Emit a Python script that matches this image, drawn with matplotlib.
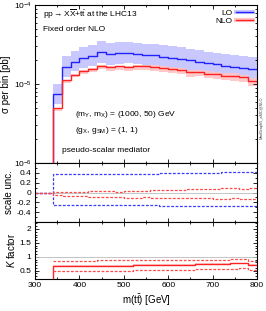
import numpy as np
import matplotlib.pyplot as plt
from matplotlib.lines import Line2D
from matplotlib.ticker import MultipleLocator, FixedLocator

plt.rcParams['font.family'] = ['Liberation Sans', 'DejaVu Sans']
plt.rcParams['mathtext.fontset'] = 'custom'
plt.rcParams['mathtext.rm'] = 'Liberation Sans'
plt.rcParams['mathtext.it'] = 'Liberation Sans:italic'

# bin edges of m(tt~) [GeV], 20 GeV bins, first two bins empty (below threshold)
edges = np.arange(300, 801, 20)

# cross section per bin [pb]
lo = np.array([0, 0, 7.4e-6, 1.65e-5, 1.92e-5, 2.15e-5, 2.29e-5, 2.52e-5, 2.38e-5, 2.45e-5,
               2.50e-5, 2.40e-5, 2.35e-5, 2.33e-5, 2.22e-5, 2.15e-5, 2.10e-5, 2.01e-5,
               1.92e-5, 1.83e-5, 1.78e-5, 1.70e-5, 1.65e-5, 1.60e-5, 1.55e-5])
nlo = np.array([0, 0, 4.9e-6, 1.11e-5, 1.31e-5, 1.46e-5, 1.56e-5, 1.71e-5, 1.62e-5, 1.67e-5,
                1.65e-5, 1.68e-5, 1.67e-5, 1.65e-5, 1.58e-5, 1.55e-5, 1.51e-5, 1.41e-5,
                1.42e-5, 1.35e-5, 1.32e-5, 1.28e-5, 1.25e-5, 1.22e-5, 1.09e-5])

# relative scale uncertainties
lo_up = np.array([0, 0, 0.37, 0.37, 0.37, 0.37, 0.37, 0.37, 0.37, 0.37, 0.38, 0.38, 0.38,
                  0.38, 0.39, 0.39, 0.39, 0.39, 0.40, 0.40, 0.40, 0.41, 0.41, 0.41, 0.41])
lo_dn = np.array([0, 0, -0.25, -0.25, -0.25, -0.25, -0.26, -0.26, -0.26, -0.26, -0.26, -0.26,
                  -0.26, -0.26, -0.27, -0.27, -0.27, -0.27, -0.27, -0.27, -0.27, -0.28,
                  -0.28, -0.28, -0.28])
nlo_up = np.array([0, 0, 0.01, 0.01, 0.02, 0.02, 0.03, 0.03, 0.03, 0.02, 0.03, 0.04, 0.04,
                   0.05, 0.06, 0.06, 0.06, 0.07, 0.07, 0.07, 0.08, 0.09, 0.09, 0.08, 0.10])
nlo_dn = np.array([0, 0, -0.06, -0.07, -0.07, -0.08, -0.09, -0.09, -0.10, -0.10, -0.11,
                   -0.11, -0.10, -0.11, -0.11, -0.12, -0.12, -0.12, -0.11, -0.12, -0.13,
                   -0.13, -0.12, -0.13, -0.14])

# K-factor envelope
k_up = np.array([np.nan, np.nan, 0.86, 0.86, 0.86, 0.86, 0.86, 0.87, 0.87, 0.87, 0.87, 0.88,
                 0.88, 0.88, 0.88, 0.90, 0.90, 0.89, 0.90, 0.90, 0.90, 0.90, 0.91, 0.91, 0.84])
k_dn = np.array([np.nan, np.nan, 0.47, 0.47, 0.48, 0.49, 0.49, 0.50, 0.50, 0.50, 0.50, 0.52,
                 0.53, 0.53, 0.53, 0.54, 0.54, 0.53, 0.55, 0.56, 0.56, 0.57, 0.57, 0.58, 0.52])

blue = '#2222ff'
red = '#ff2222'
dred = '#ff4848'
dblue = '#3838ff'
lblue = '#c8c8ff'
lred = '#ffc4c4'
dash = (0, (2.2, 1.3))


def ext(v):
    return np.append(v, v[-1])


def stepline(ax, v, **kw):
    ax.step(edges, ext(v), where='post', **kw)


def band(ax, lo_v, hi_v, **kw):
    ax.fill_between(edges, ext(lo_v), ext(hi_v), step='post', lw=0, **kw)


fig = plt.figure(figsize=(2.66, 3.11), dpi=100)
L, W = 35 / 266, 222 / 266
ax1 = fig.add_axes([L, 1 - 163 / 311, W, 158 / 311])
ax2 = fig.add_axes([L, 1 - 222 / 311, W, 59 / 311])
ax3 = fig.add_axes([L, 1 - 279 / 311, W, 57 / 311])

# main panel
ax1.set_yscale('log')
band(ax1, lo * (1 + lo_dn), lo * (1 + lo_up), color=lblue)
band(ax1, nlo * (1 + nlo_dn), nlo * (1 + nlo_up), color=lred, alpha=0.9)
stepline(ax1, lo, color=blue, lw=1.0)
stepline(ax1, nlo, color=red, lw=1.0)
ax1.set_ylim(1e-6, 1e-4)
ax1.set_ylabel('σ per bin [pb]', fontsize=7, labelpad=2)

fs = 6
ax1.text(0.036, 0.937, r'pp$\rightarrow$X$\overline{\mathrm{X}}$+t$\bar{\mathrm{t}}$ at the LHC13',
         transform=ax1.transAxes, fontsize=fs, va='center')
ax1.text(0.036, 0.848, 'Fixed order NLO', transform=ax1.transAxes, fontsize=fs, va='center')
ax1.text(0.18, 0.304, r'(m$_\mathrm{Y}$, m$_\mathrm{X}$) = (1000, 50) GeV',
         transform=ax1.transAxes, fontsize=fs, va='center')
ax1.text(0.18, 0.203, r'(g$_\mathrm{X}$, g$_\mathrm{SM}$) = (1, 1)',
         transform=ax1.transAxes, fontsize=fs, va='center')
ax1.text(0.12, 0.076, 'pseudo-scalar mediator', transform=ax1.transAxes, fontsize=fs, va='center')

h_lo = (Line2D([], [], color=lblue, lw=3), Line2D([], [], color=blue, lw=1.0))
h_nlo = (Line2D([], [], color=lred, lw=3), Line2D([], [], color=red, lw=1.0))
ax1.legend([h_lo, h_nlo], ['LO', 'NLO'], loc='upper right', frameon=False, fontsize=fs,
           markerfirst=False, handlelength=2.0, handletextpad=0.5, labelspacing=0.05,
           borderaxespad=0.3, borderpad=0.2)

fig.text(0.985, 0.62, 'MadGraph5_aMC@NLO', rotation=90, fontsize=2.8, color='#444444',
         ha='center', va='center')

# scale uncertainty panel
ax2.axhline(0, color='#bbbbbb', lw=0.6)
stepline(ax2, lo_up, color=dblue, lw=0.9, ls=dash)
stepline(ax2, lo_dn, color=dblue, lw=0.9, ls=dash)
stepline(ax2, nlo_up, color=dred, lw=0.9, ls=dash)
stepline(ax2, nlo_dn, color=dred, lw=0.9, ls=dash)
ax2.set_ylim(-0.6, 0.6)
ax2.yaxis.set_major_locator(FixedLocator([-0.4, -0.2, 0, 0.2, 0.4]))
ax2.set_yticklabels(['-0.4', '-0.2', '0', '0.2', '0.4'])
ax2.yaxis.set_minor_locator(MultipleLocator(0.1))
ax2.set_ylabel('scale unc.', fontsize=7, labelpad=2)

# K-factor panel
kf = np.divide(nlo, lo, out=np.zeros_like(nlo), where=lo > 0)
ax3.axhline(1, color='#bbbbbb', lw=0.6)
band(ax3, np.where(lo > 0, kf - 0.03, np.nan), np.where(lo > 0, kf + 0.03, np.nan),
     color=lred, alpha=0.8)
stepline(ax3, kf, color=red, lw=1.0)
stepline(ax3, k_up, color=dred, lw=0.9, ls=dash)
stepline(ax3, k_dn, color=dred, lw=0.9, ls=dash)
ax3.set_ylim(0.2, 2.25)
ax3.yaxis.set_major_locator(FixedLocator([0.5, 1, 1.5, 2]))
ax3.set_yticklabels(['0.5', '1', '1.5', '2'])
ax3.yaxis.set_minor_locator(MultipleLocator(0.1))
ax3.set_ylabel(r'$\mathit{K}$ factor', fontsize=7, labelpad=2)
ax3.set_xlabel(r'm(t$\bar{\mathrm{t}}$) [GeV]', fontsize=7, labelpad=2)

for ax in (ax1, ax2, ax3):
    ax.set_xlim(300, 800)
    ax.xaxis.set_major_locator(MultipleLocator(100))
    ax.xaxis.set_minor_locator(MultipleLocator(50))
    ax.tick_params(which='both', direction='in', top=True, right=True, labelsize=6,
                   width=0.6, pad=2.5)
    ax.tick_params(which='major', length=3)
    ax.tick_params(which='minor', length=1.5)
    for s in ax.spines.values():
        s.set_linewidth(0.8)
for ax in (ax1, ax2):
    ax.tick_params(labelbottom=False)

fig.align_ylabels([ax1, ax2, ax3])
fig.savefig('out.png', dpi=100)
